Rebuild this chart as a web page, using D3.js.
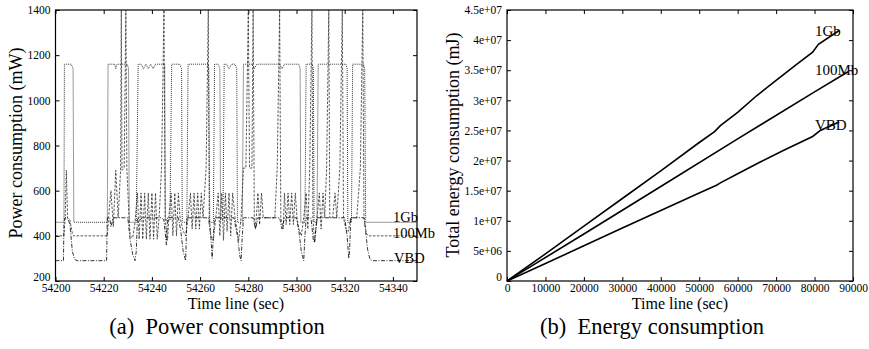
<!DOCTYPE html>
<html>
<head>
<meta charset="utf-8">
<script src="https://cdn.jsdelivr.net/npm/d3@7"></script>
<style>
  body { margin: 0; background: #fff; }
  svg { display: block; }
  svg text { font-family: "Liberation Serif", "Times New Roman", serif !important; fill: #000; }
</style>
</head>
<body>
<svg id="chart" width="869" height="349"></svg>
<script>
// (a) power consumption, [time, mW]
const power1Gb = [[54200,460],[54203.5,460],[54203.7,1160],[54206.5,1160],[54207.3,1140],[54207.6,460],[54221.5,460],[54221.8,1160],[54224.5,1160],[54225,1140],[54225.5,1160],[54229.8,1160],[54230.3,1140],[54230.6,460],[54233.5,460],[54234.3,1160],[54235.5,1160],[54236.5,1140],[54237.5,1160],[54238.5,1140],[54239.5,1160],[54240.5,1140],[54241.5,1160],[54245.3,1160],[54245.6,470],[54247.5,470],[54248.2,1160],[54251.5,1160],[54252.3,1140],[54252.6,460],[54254.5,460],[54255,1160],[54263.3,1160],[54263.6,1140],[54264,460],[54265.5,460],[54266,1160],[54267.5,1160],[54268.2,1140],[54268.5,470],[54269.5,470],[54270,1160],[54271,1160],[54272,1140],[54273,1160],[54274.5,1160],[54275.2,1140],[54275.5,460],[54277.5,460],[54278,1160],[54281.5,1160],[54282.5,1140],[54283.5,1160],[54293,1160],[54294,1140],[54295,1160],[54301,1160],[54301.5,1140],[54301.8,460],[54303.5,460],[54304,1160],[54306.5,1160],[54307,1140],[54307.3,460],[54308.5,460],[54309,1160],[54320.5,1160],[54321,1140],[54321.3,460],[54322.8,460],[54323.3,1160],[54327.8,1160],[54328.3,1140],[54328.7,460],[54350,460]];

const power100Mb = [[54200,400],[54203.5,400],[54204,480],[54204.5,690],[54205,480],[54206,470],[54207,410],[54207.5,400],[54221.5,400],[54222,480],[54223,600],[54224,440],[54225,690],[54226,480],[54227,690],[54227.3,1400],[54227.6,690],[54228.5,700],[54229.2,1400],[54229.6,700],[54230.5,480],[54231,400],[54232,390],[54233,460],[54234,590],[54234.7,385],[54235.5,590],[54236.2,385],[54237,590],[54237.7,385],[54238.5,590],[54239.2,385],[54240,590],[54240.7,385],[54241.5,590],[54242.2,385],[54243,480],[54244,700],[54245,1400],[54245.5,470],[54246.5,380],[54247,480],[54248,590],[54248.7,400],[54249.5,590],[54250.2,400],[54251,590],[54251.7,480],[54253,420],[54254,400],[54255,480],[54256,590],[54256.7,430],[54257.5,590],[54258.2,430],[54259,590],[54259.7,430],[54260.5,590],[54261.2,480],[54262.5,700],[54263.4,1400],[54263.8,480],[54264.5,400],[54265.5,380],[54266.5,480],[54267.5,590],[54268.2,400],[54269,590],[54269.7,380],[54270.5,590],[54271.2,420],[54272,590],[54272.7,400],[54273.5,590],[54274.5,480],[54276,380],[54277,480],[54278,700],[54279,700],[54280,1400],[54280.5,700],[54281.5,700],[54282,1400],[54282.5,480],[54283,430],[54284,590],[54284.7,450],[54285.5,590],[54286.2,480],[54291,480],[54292,700],[54293,1400],[54293.5,480],[54294.5,430],[54295,590],[54295.7,450],[54296.5,590],[54297.2,450],[54298,590],[54298.7,450],[54299.5,590],[54300.2,480],[54301,430],[54302,400],[54303,480],[54304,590],[54304.7,430],[54305.5,700],[54306.4,1400],[54306.8,480],[54307.5,370],[54308.5,480],[54309.5,590],[54310.2,430],[54311,590],[54311.7,480],[54312.5,700],[54313.4,1400],[54313.8,480],[54315,480],[54316,590],[54316.7,480],[54318,700],[54319,1400],[54319.5,480],[54320.5,430],[54321.5,420],[54322.5,480],[54325,480],[54326.5,700],[54327.5,1400],[54328,480],[54329,410],[54330,400],[54350,400]];

const powerVBD = [[54200,290],[54203.3,290],[54203.5,460],[54204,480],[54205,480],[54206,450],[54207,330],[54208,295],[54209,290],[54221.2,290],[54221.5,480],[54222.5,480],[54223,440],[54224,480],[54230,480],[54231,380],[54232,320],[54233,290],[54233.5,330],[54234,480],[54235,470],[54236,480],[54244,480],[54245,470],[54246,360],[54246.5,480],[54251,480],[54252,420],[54253,330],[54254,290],[54254.5,480],[54263.5,480],[54264.5,390],[54265,300],[54265.5,400],[54266,480],[54274,480],[54275.5,400],[54276.5,310],[54277,290],[54277.5,400],[54278,480],[54282,480],[54283,430],[54284,480],[54293,480],[54294,430],[54295,480],[54300,480],[54301,420],[54302,330],[54303,290],[54303.5,400],[54304,480],[54306,480],[54307,380],[54307.5,370],[54308.5,480],[54320,480],[54321,400],[54321.7,300],[54322,330],[54322.5,480],[54328,480],[54328.5,440],[54329.5,340],[54330.5,295],[54331.5,290],[54350,290]];

// (b) cumulative energy, [time, mJ]
const energy1Gb = [[0,0],[10000,4.5e6],[20000,9.1e6],[30000,1.37e7],[40000,1.83e7],[50000,2.3e7],[54000,2.48e7],[55500,2.58e7],[60000,2.8e7],[65000,3.08e7],[70000,3.33e7],[75000,3.58e7],[79500,3.8e7],[81000,3.93e7],[86400,4.16e7]];
const energy100Mb = [[0,0],[20000,7.8e6],[40000,1.57e7],[60000,2.36e7],[80000,3.14e7],[88700,3.475e7]];
const energyVBD = [[0,0],[10000,2.9e6],[20000,5.85e6],[30000,8.8e6],[40000,1.17e7],[50000,1.46e7],[54500,1.59e7],[55500,1.63e7],[60000,1.78e7],[66000,1.98e7],[72000,2.17e7],[79500,2.4e7],[81500,2.5e7],[86400,2.64e7]];

const powerXTicks = [54200, 54220, 54240, 54260, 54280, 54300, 54320, 54340];
const powerYTicks = [200, 400, 600, 800, 1000, 1200, 1400];
const energyXTicks = [0, 10000, 20000, 30000, 40000, 50000, 60000, 70000, 80000, 90000];
const energyYTicks = [0, 5e6, 1e7, 1.5e7, 2e7, 2.5e7, 3e7, 3.5e7, 4e7, 4.5e7];
const energyYLabels = ['0', '5e+06', '1e+07', '1.5e+07', '2e+07', '2.5e+07', '3e+07', '3.5e+07', '4e+07', '4.5e+07'];

const svg = d3.select('#chart');
const plotTop = 10, plotBottom = 281, tickLen = 4;

function frame(x, y, xTicks, yTicks, yFmt) {
  const g = svg.append('g');
  const [x0, x1] = x.range();
  // inside ticks, mirrored on all sides
  g.append('g').attr('transform', 'translate(0,' + plotBottom + ')')
    .call(d3.axisBottom(x).tickValues(xTicks).tickSize(-tickLen).tickPadding(3).tickFormat(d3.format('d')));
  g.append('g').attr('transform', 'translate(0,' + plotTop + ')')
    .call(d3.axisTop(x).tickValues(xTicks).tickSize(-tickLen).tickFormat(''));
  const left = g.append('g').attr('transform', 'translate(' + x0 + ',0)')
    .call(d3.axisLeft(y).tickValues(yTicks).tickSize(-tickLen).tickPadding(5).tickFormat(yFmt));
  g.append('g').attr('transform', 'translate(' + x1 + ',0)')
    .call(d3.axisRight(y).tickValues(yTicks).tickSize(-tickLen).tickFormat(''));
  g.selectAll('.domain').remove();
  g.selectAll('g').attr('font-family', null);
  g.selectAll('.tick line').attr('stroke', '#000');
  g.selectAll('.tick text').attr('font-size', 11.5);
  // bottom y label sits a little above the corner, as gnuplot puts it
  left.selectAll('.tick text').filter((d, i) => i === 0).attr('dy', '-0.05em');
  return g;
}

function border(x) {
  const [x0, x1] = x.range();
  svg.append('rect').attr('x', x0).attr('y', plotTop).attr('width', x1 - x0).attr('height', plotBottom - plotTop)
    .attr('fill', 'none').attr('stroke', '#000').attr('stroke-width', 1.2);
}

function label(x, y, size, txt) {
  return svg.append('text').attr('x', x).attr('y', y).attr('font-size', size).text(txt);
}

// ---- (a) power ----
const xP = d3.scaleLinear().domain([54200, 54350]).range([55.5, 417]);
const yP = d3.scaleLinear().domain([200, 1400]).range([plotBottom, plotTop]);
frame(xP, yP, powerXTicks, powerYTicks, d3.format('d'));

const lineP = d3.line().x(d => xP(d[0])).y(d => yP(d[1]));
const powerSeries = [
  { data: power1Gb, dash: '1,1', color: '#222', width: 0.9 },
  { data: power100Mb, dash: '2.5,1.5', color: '#222', width: 0.75 },
  { data: powerVBD, dash: '4,1.5,1,1.5', color: '#000', width: 0.8 }
];
powerSeries.forEach(s => {
  svg.append('path').datum(s.data).attr('d', lineP)
    .attr('fill', 'none').attr('stroke', s.color).attr('stroke-width', s.width)
    .attr('stroke-dasharray', s.dash);
});
border(xP);

label(393, 222, 14.5, '1Gb');
label(393, 238, 14.5, '100Mb');
label(394, 263, 14.5, 'VBD');

label(236, 309, 16, 'Time line (sec)').attr('text-anchor', 'middle');
svg.append('text').attr('transform', 'translate(22,143) rotate(-90)').attr('text-anchor', 'middle')
  .attr('font-size', 18).text('Power consumption (mW)');
label(217, 334, 22.5, '(a)  Power consumption').attr('text-anchor', 'middle').attr('xml:space', 'preserve');

// ---- (b) energy ----
const xE = d3.scaleLinear().domain([0, 90000]).range([507, 853]);
const yE = d3.scaleLinear().domain([0, 4.5e7]).range([plotBottom, plotTop]);
frame(xE, yE, energyXTicks, energyYTicks, (d, i) => energyYLabels[i]);

const lineE = d3.line().x(d => xE(d[0])).y(d => yE(d[1]));
[energy1Gb, energy100Mb, energyVBD].forEach(data => {
  svg.append('path').datum(data).attr('d', lineE)
    .attr('fill', 'none').attr('stroke', '#000').attr('stroke-width', 1.6);
});
border(xE);

label(815, 36, 15, '1Gb');
label(815, 75, 15, '100Mb');
label(815, 130, 15, 'VBD');

label(680, 309, 16, 'Time line (sec)').attr('text-anchor', 'middle');
svg.append('text').attr('transform', 'translate(459,145) rotate(-90)').attr('text-anchor', 'middle')
  .attr('font-size', 18).text('Total energy consumption (mJ)');
label(652, 334, 22.5, '(b)  Energy consumption').attr('text-anchor', 'middle').attr('xml:space', 'preserve');
</script>
</body>
</html>
